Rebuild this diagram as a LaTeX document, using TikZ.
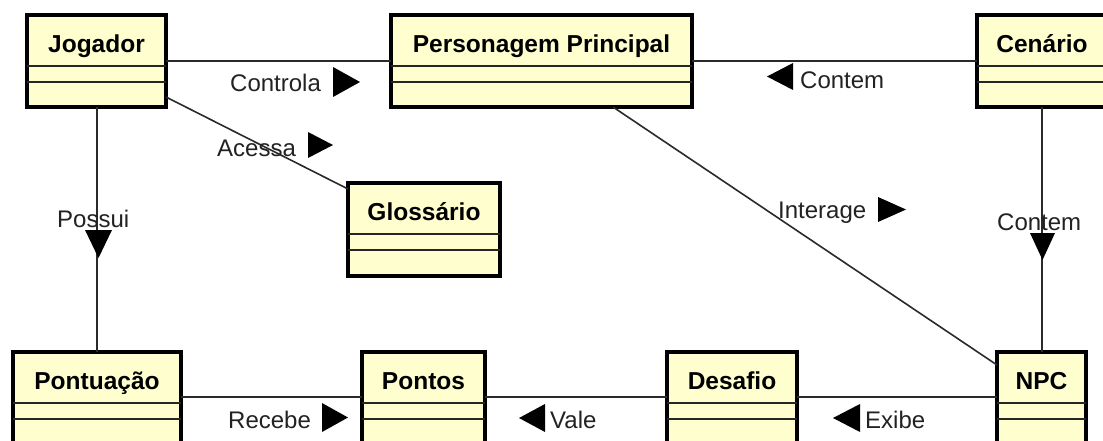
\documentclass[tikz,border=0pt]{standalone}
\usepackage{fontspec}
\setmainfont{Liberation Sans}
\usetikzlibrary{calc}
\definecolor{boxfill}{HTML}{FEFECE}
\definecolor{connc}{HTML}{2A2A2A}
\definecolor{lblc}{HTML}{222222}
\tikzset{
  classbox/.style={draw=black, line width=4pt, fill=boxfill, inner sep=0pt, outer sep=0pt, anchor=north west},
  divider/.style={draw=black!85, line width=1.8pt},
  classtitle/.style={anchor=base, inner sep=0pt, font=\fontsize{24.5}{28}\selectfont\bfseries},
  lbl/.style={anchor=base west, inner sep=0pt, text=lblc, font=\fontsize{24}{28}\selectfont},
  conn/.style={draw=connc, line width=1.6pt},
  tip/.style={fill=black}
}
\newcommand{\umlclass}[6]{%
  \node[classbox, minimum width={#5-#3-4}, minimum height={#6-#4-4}] (#1) at ({#3+2},{#4+2}) {};
  \draw[divider] ({#3+2},{#4+53}) -- ({#5-2},{#4+53});
  \draw[divider] ({#3+2},{#4+69}) -- ({#5-2},{#4+69});
  \node[classtitle] at ({(#3+#5)/2},{#4+39.5}) {#2};
}
\newcommand{\arrR}[4]{\fill[tip] (#1,#3) -- (#2,{(#3+#4)/2}) -- (#1,#4) -- cycle;}
\newcommand{\arrL}[4]{\fill[tip] (#2,#3) -- (#1,{(#3+#4)/2}) -- (#2,#4) -- cycle;}
\newcommand{\arrD}[4]{\fill[tip] (#1,#3) -- ({(#1+#2)/2},#4) -- (#2,#3) -- cycle;}
\begin{document}
\begin{tikzpicture}[x=1pt,y=-1pt]
\useasboundingbox (0,0) rectangle (1103,441);
\clip (0,0) rectangle (1103,441);
\fill[white] (0,0) rectangle (1103,441);
% classes
\umlclass{jog}{Jogador}{25}{13}{168}{109}
\umlclass{pp}{Personagem Principal}{389}{13}{694}{109}
\umlclass{cen}{Cenário}{975}{13}{1109}{109}
\umlclass{glo}{Glossário}{346}{181}{502}{278}
\umlclass{pont}{Pontuação}{11}{350}{183}{446}
\umlclass{pontos}{Pontos}{360}{350}{487}{446}
\umlclass{des}{Desafio}{665}{350}{799}{446}
\umlclass{npc}{NPC}{995}{350}{1088}{446}
% connectors
\draw[conn] (jog.east |- 0,61) -- (pp.west |- 0,61);
\draw[conn] (pp.east |- 0,61) -- (cen.west |- 0,61);
\draw[conn] (jog.east |- 0,97) -- (glo.west |- 0,189);
\draw[conn] (jog.south -| 97,0) -- (pont.north -| 97,0);
\draw[conn] (pp.south -| 613,0) -- (npc.west |- 0,365);
\draw[conn] (cen.south) -- (npc.north -| cen.south);
\draw[conn] (pont.east |- 0,397) -- (pontos.west |- 0,397);
\draw[conn] (pontos.east |- 0,397) -- (des.west |- 0,397);
\draw[conn] (des.east |- 0,397) -- (npc.west |- 0,397);
% labels
\node[lbl] (lcontrola) at (230,92) {Controla};
\node[lbl] (lcontem1) at (800,89) {Contem};
\node[lbl] (lacessa) at (217,157) {Acessa};
\node[lbl] (linterage) at (778,218) {Interage};
\node[lbl] (lpossui) at (57,227) {Possui};
\node[lbl] (lcontem2) at (997,230) {Contem};
\node[lbl] (lrecebe) at (228,428) {Recebe};
\node[lbl] (lvale) at (550,428) {Vale};
\node[lbl] (lexibe) at (865,428) {Exibe};
% direction triangles
\arrR{333}{360}{67}{97}
\arrL{767}{793}{63}{90}
\arrR{308}{333}{132}{158}
\arrR{878}{906}{197}{222}
\arrD{85}{112}{230}{258}
\arrD{1030}{1055}{233}{260}
\arrR{322}{348}{403}{432}
\arrL{519}{545}{404}{432}
\arrL{833}{860}{404}{432}
\end{tikzpicture}
\end{document}
